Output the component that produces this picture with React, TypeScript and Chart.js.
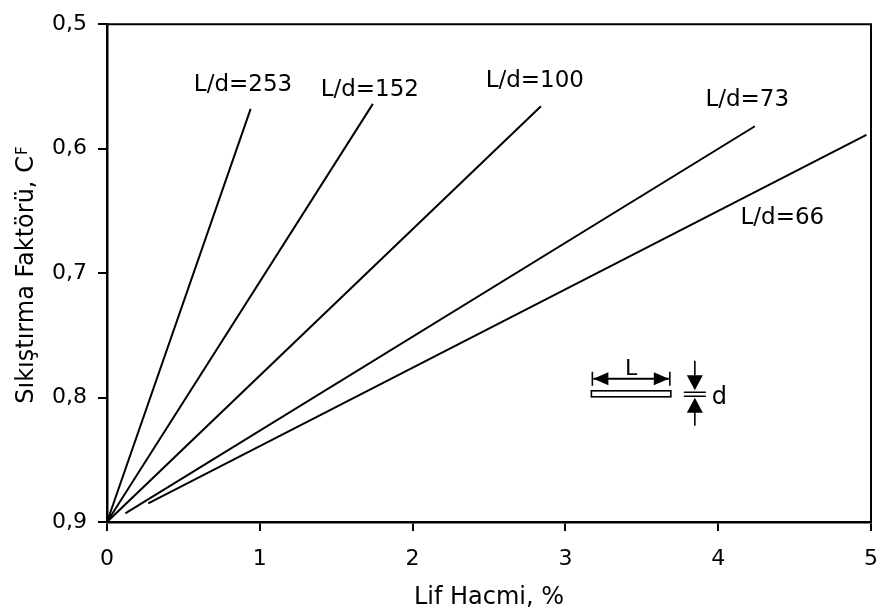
import React, { useEffect, useRef } from 'react';
import { Chart, registerables } from 'chart.js';

Chart.register(...registerables);

// ---- data ----
const SERIES_LABELS = ['L/d=253', 'L/d=152', 'L/d=100', 'L/d=73', 'L/d=66'];
const START_X = [0, 0, 0, 0.12, 0.27];
const START_Y = [0.9, 0.9, 0.9, 0.893, 0.885];
const END_X = [0.94, 1.74, 2.84, 4.24, 4.97];
const END_Y = [0.568, 0.564, 0.566, 0.582, 0.589];
const LABEL_X = [0.89, 1.72, 2.8, 4.19, 4.42];
const LABEL_Y = [0.5486, 0.5526, 0.546, 0.5606, 0.656];

const X_TICKS = [0, 1, 2, 3, 4, 5];
const Y_TICKS = [0.5, 0.6, 0.7, 0.8, 0.9];

const X_TITLE = 'Lif Hacmi, %';
const Y_TITLE_MAIN = 'Sıkıştırma Faktörü, C';
const Y_TITLE_SUB = 'F';

// inset (rod sketch) anchor in data units
const ROD_X = [3.17, 3.69];
const ROD_Y = 0.797;
const ROD_L = 'L';
const ROD_D = 'd';

const FONT = 'DejaVu Sans';

export default function App() {
  const ref = useRef<HTMLCanvasElement>(null);

  useEffect(() => {
    document.body.style.margin = '0';
    const canvas = ref.current!;
    const datasets = SERIES_LABELS.map((name, i) => ({
      label: name,
      data: [
        { x: START_X[i], y: START_Y[i] },
        { x: END_X[i], y: END_Y[i] },
      ],
      borderColor: '#000',
      borderWidth: 2,
      pointRadius: 0,
      fill: false,
      tension: 0,
    }));

    const annot = {
      id: 'annot',
      afterDatasetsDraw(chart: any) {
        const c = chart.ctx as CanvasRenderingContext2D;
        const { left, right, top, bottom } = chart.chartArea;
        const xs = chart.scales.x;
        const ys = chart.scales.y;
        c.save();
        // top + right frame
        c.strokeStyle = '#000';
        c.lineWidth = 2;
        c.beginPath();
        c.moveTo(left, top);
        c.lineTo(right, top);
        c.lineTo(right, bottom);
        c.stroke();

        // series labels
        c.fillStyle = '#000';
        c.font = `23px "${FONT}"`;
        c.textAlign = 'center';
        c.textBaseline = 'middle';
        SERIES_LABELS.forEach((name, i) => {
          c.fillText(name, xs.getPixelForValue(LABEL_X[i]), ys.getPixelForValue(LABEL_Y[i]));
        });

        // y title (rotated, with small F)
        const mainFont = `24px "${FONT}"`;
        const subFont = `15px "${FONT}"`;
        c.font = mainFont;
        const wMain = c.measureText(Y_TITLE_MAIN).width;
        c.font = subFont;
        const wSub = c.measureText(Y_TITLE_SUB).width;
        const total = wMain + 1 + wSub;
        c.translate(33, (top + bottom) / 2 + 2);
        c.rotate(-Math.PI / 2);
        c.textAlign = 'left';
        c.textBaseline = 'alphabetic';
        c.font = mainFont;
        c.fillText(Y_TITLE_MAIN, -total / 2, 0);
        c.font = subFont;
        c.fillText(Y_TITLE_SUB, -total / 2 + wMain + 1, -6.5);
        c.setTransform(1, 0, 0, 1, 0, 0);

        // inset rod sketch
        const rx0 = xs.getPixelForValue(ROD_X[0]);
        const rx1 = xs.getPixelForValue(ROD_X[1]);
        const ry = ys.getPixelForValue(ROD_Y);
        c.lineWidth = 1.6;
        c.fillStyle = '#fff';
        c.fillRect(rx0, ry - 3, rx1 - rx0, 6);
        c.strokeRect(rx0, ry - 3, rx1 - rx0, 6);
        // L dimension
        const ly = ry - 15;
        c.beginPath();
        c.moveTo(rx0 + 1, ly - 7);
        c.lineTo(rx0 + 1, ly + 7);
        c.moveTo(rx1 - 1, ly - 7);
        c.lineTo(rx1 - 1, ly + 7);
        c.stroke();
        c.lineWidth = 2;
        c.beginPath();
        c.moveTo(rx0 + 2, ly);
        c.lineTo(rx1 - 2, ly);
        c.stroke();
        c.fillStyle = '#000';
        c.beginPath();
        c.moveTo(rx0 + 2, ly);
        c.lineTo(rx0 + 17, ly - 6.5);
        c.lineTo(rx0 + 17, ly + 6.5);
        c.closePath();
        c.fill();
        c.beginPath();
        c.moveTo(rx1 - 2, ly);
        c.lineTo(rx1 - 17, ly - 6.5);
        c.lineTo(rx1 - 17, ly + 6.5);
        c.closePath();
        c.fill();
        c.font = `22px "${FONT}"`;
        c.textAlign = 'center';
        c.textBaseline = 'middle';
        c.fillText(ROD_L, (rx0 + rx1) / 2, ly - 10);
        // d dimension
        const dx = rx1 + 24;
        c.lineWidth = 1.6;
        c.beginPath();
        c.moveTo(dx, ry - 33);
        c.lineTo(dx, ry - 16);
        c.moveTo(dx, ry + 18);
        c.lineTo(dx, ry + 32);
        c.moveTo(dx - 11, ry - 1.5);
        c.lineTo(dx + 11, ry - 1.5);
        c.moveTo(dx - 11, ry + 2.5);
        c.lineTo(dx + 11, ry + 2.5);
        c.stroke();
        c.beginPath();
        c.moveTo(dx, ry - 3.5);
        c.lineTo(dx - 8, ry - 18.5);
        c.lineTo(dx + 8, ry - 18.5);
        c.closePath();
        c.fill();
        c.beginPath();
        c.moveTo(dx, ry + 4);
        c.lineTo(dx - 8, ry + 19);
        c.lineTo(dx + 8, ry + 19);
        c.closePath();
        c.fill();
        c.font = `24px "${FONT}"`;
        c.textAlign = 'left';
        c.fillText(ROD_D, dx + 17, ry + 4);
        c.restore();
      },
    };

    const chart = new Chart(canvas, {
      type: 'line',
      data: { datasets },
      options: {
        animation: false,
        responsive: false,
        maintainAspectRatio: false,
        layout: { padding: { left: 0, right: 10, top: 20, bottom: 0 } },
        plugins: {
          legend: { display: false },
          tooltip: { enabled: false },
        },
        scales: {
          x: {
            type: 'linear',
            min: 0,
            max: 5,
            afterBuildTicks: (s: any) => {
              s.ticks = X_TICKS.map((v) => ({ value: v }));
            },
            afterFit: (s: any) => {
              s.height = 93;
            },
            ticks: {
              color: '#000',
              font: { family: FONT, size: 22 },
              padding: 15,
              maxRotation: 0,
              callback: (v: any) => String(v),
            },
            grid: {
              drawOnChartArea: false,
              drawTicks: true,
              tickLength: 9,
              color: '#000',
              lineWidth: 2,
            },
            border: { display: true, color: '#000', width: 2.5 },
            title: {
              display: true,
              text: X_TITLE,
              color: '#000',
              font: { family: FONT, size: 24 },
              padding: { top: 0, bottom: 3 },
            },
          },
          y: {
            type: 'linear',
            reverse: true,
            min: 0.5,
            max: 0.9,
            afterBuildTicks: (s: any) => {
              s.ticks = Y_TICKS.map((v) => ({ value: v }));
            },
            afterFit: (s: any) => {
              s.width = 107;
            },
            ticks: {
              color: '#000',
              font: { family: FONT, size: 22 },
              padding: 11,
              callback: (v: any) => Number(v).toFixed(1).replace('.', ','),
            },
            grid: {
              drawOnChartArea: false,
              drawTicks: true,
              tickLength: 9,
              color: '#000',
              lineWidth: 2,
            },
            border: { display: true, color: '#000', width: 2.5 },
          },
        },
      },
      plugins: [annot],
    });
    return () => chart.destroy();
  }, []);

  return (
    <div style={{ position: 'fixed', left: 0, top: 0, width: 893, height: 615, background: '#fff' }}>
      <canvas ref={ref} width={893} height={615} style={{ display: 'block' }} />
    </div>
  );
}
